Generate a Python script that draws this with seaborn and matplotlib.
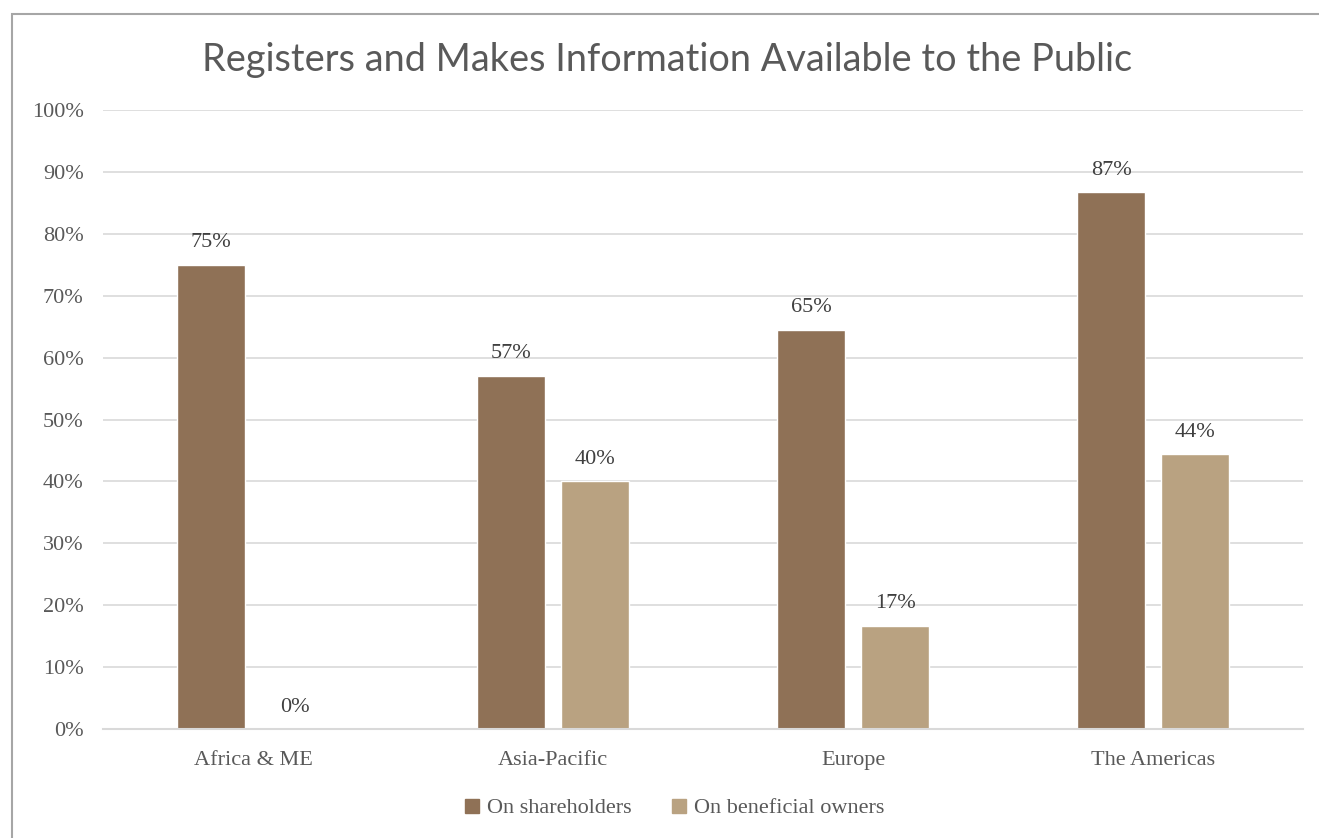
import matplotlib
matplotlib.use("Agg")
import matplotlib.pyplot as plt
import seaborn as sns
import pandas as pd
from matplotlib.patches import Rectangle
from matplotlib.lines import Line2D

regions = ["Africa & ME", "Asia-Pacific", "Europe", "The Americas"]
series = ["On shareholders", "On beneficial owners"]
shareholders = [75.0, 57.1, 64.5, 86.7]
beneficial = [0.0, 40.0, 16.7, 44.4]
colors = ["#8F7156", "#B9A281"]

df = pd.DataFrame({
    "region": regions * 2,
    "series": [series[0]] * 4 + [series[1]] * 4,
    "value": shareholders + beneficial,
})

sns.set_style("white")
serif = ["Liberation Serif", "DejaVu Serif"]
txt = "#595959"

fig = plt.figure(figsize=(13.19, 8.38), dpi=100)
ax = fig.add_axes([103 / 1319, 1 - 729 / 838, 1200 / 1319, 619 / 838])

sns.barplot(data=df, x="region", y="value", hue="series", palette=colors,
            width=0.56, gap=0.19, ax=ax, legend=False, saturation=1)

ax.set_xlim(-0.5, 3.5)
ax.set_ylim(0, 100)
ax.set_yticks(range(0, 101, 10))
ax.set_yticklabels([f"{v}%" for v in range(0, 101, 10)], fontfamily=serif,
                   fontsize=16, color=txt)
ax.set_xticks(range(4))
ax.set_xticklabels(regions, fontfamily=serif, fontsize=16, color=txt)
ax.tick_params(axis="y", length=0, pad=14)
ax.tick_params(axis="x", length=0, pad=16)
ax.set_xlabel("")
ax.set_ylabel("")
ax.yaxis.grid(True, color="#D9D9D9", lw=1.2)
ax.set_axisbelow(True)
for s in ["top", "right", "left"]:
    ax.spines[s].set_visible(False)
ax.spines["bottom"].set_color("#D9D9D9")
ax.spines["bottom"].set_linewidth(1.5)

for cont in ax.containers:
    labels = [f"{int(b.get_height() + 0.5)}%" for b in cont]
    ax.bar_label(cont, labels=labels, padding=9, fontfamily=serif,
                 fontsize=16, color="#404040")

fig.text(667 / 1319, 1 - 60 / 838,
         "Registers and Makes Information Available to the Public",
         ha="center", va="center", fontsize=27.3, fontfamily="Lato", color=txt)

handles = [Line2D([], [], marker="s", ls="", markersize=10, color=c) for c in colors]
fig.legend(handles, series, loc="center", bbox_to_anchor=(667 / 1319, 1 - 808 / 838),
           ncol=2, frameon=False, prop={"family": serif, "size": 16},
           handletextpad=-0.3, columnspacing=1.1, labelcolor=txt)

fig.patches.append(Rectangle((12 / 1319, -0.1), 1.2, 1 - 14 / 838 + 0.1,
                             transform=fig.transFigure, fill=False,
                             edgecolor="#A6A6A6", lw=1.5))

fig.savefig("out.png", dpi=100)
